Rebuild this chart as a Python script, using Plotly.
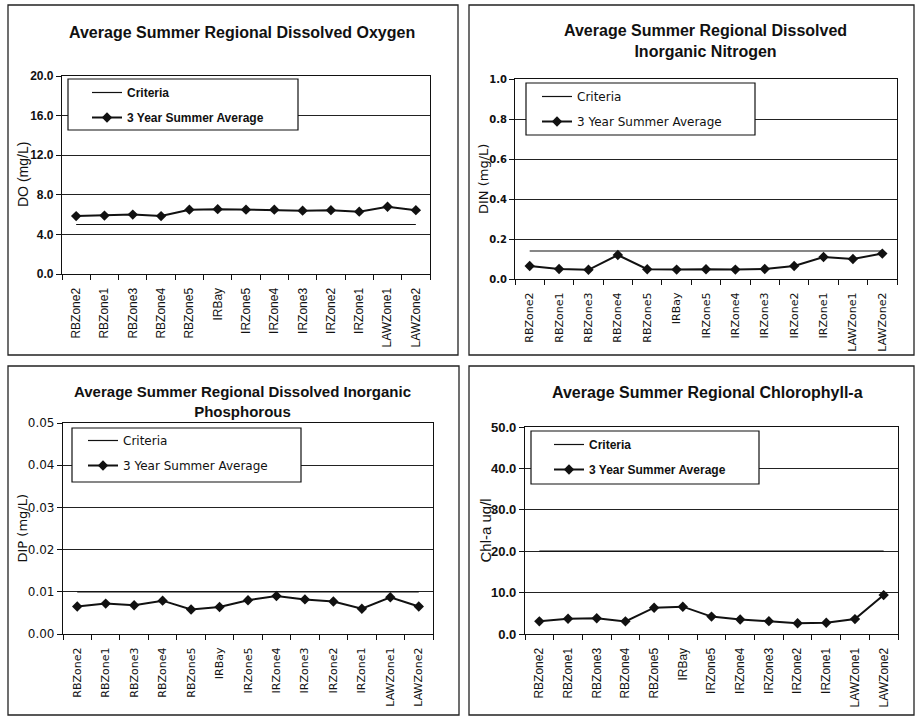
import plotly.graph_objects as go

# ---------------------------------------------------------------------------
# Data
# ---------------------------------------------------------------------------
regions = ["RBZone2", "RBZone1", "RBZone3", "RBZone4", "RBZone5", "IRBay",
           "IRZone5", "IRZone4", "IRZone3", "IRZone2", "IRZone1",
           "LAWZone1", "LAWZone2"]

do_avg = [5.85, 5.9, 6.0, 5.85, 6.5, 6.55, 6.5, 6.5, 6.4, 6.45, 6.3, 6.8, 6.45]
do_criteria = 5.0

din_avg = [0.065, 0.05, 0.046, 0.12, 0.049, 0.047, 0.049, 0.047, 0.05,
           0.065, 0.11, 0.10, 0.127]
din_criteria = 0.14

dip_avg = [0.0065, 0.0072, 0.0068, 0.0079, 0.0058, 0.0064, 0.0080,
           0.0090, 0.0082, 0.0077, 0.0060, 0.0087, 0.0065]
dip_criteria = 0.01

chl_avg = [3.05, 3.7, 3.8, 3.05, 6.35, 6.6, 4.2, 3.5, 3.1, 2.6, 2.7, 3.6, 9.4]
chl_criteria = 20.0

titles = ["Average Summer Regional Dissolved Oxygen",
          "Average Summer Regional Dissolved<br>Inorganic Nitrogen",
          "Average Summer Regional Dissolved Inorganic<br>Phosphorous",
          "Average Summer Regional Chlorophyll-a"]
y_titles = ["DO (mg/L)", "DIN (mg/L)", "DIP (mg/L)", "Chl-a ug/l"]
y_ranges = [(0, 20), (0, 1.0), (0, 0.05), (0, 50)]
y_dticks = [4, 0.2, 0.01, 10]
y_formats = [".1f", ".1f", ".2f", ".1f"]
series_names = ["Criteria", "3 Year Summer Average"]

# ---------------------------------------------------------------------------
# Page geometry (pixels)
# ---------------------------------------------------------------------------
W, H = 916, 717


def fx(px):
    return px / W


def fy(py):
    return 1 - py / H


ARIAL = "Liberation Sans, Arial, sans-serif"
TAHOMA = "DejaVu Sans, Tahoma, sans-serif"

panels = [
    dict(avg=do_avg, crit=do_criteria, box=(8, 5, 458, 355),
         plot=(62, 76, 430, 274), leg_box=(68, 79, 298, 130),
         leg_text=(127, 78), title_xy=(242, 32), ytitle_x=23,
         title_size=16, tick_font=dict(family=ARIAL, size=12, weight="bold"),
         x_font=dict(family=ARIAL, size=12), ytitle_font=dict(family=ARIAL, size=14),
         leg_font=dict(family=ARIAL, size=12, weight="bold")),
    dict(avg=din_avg, crit=din_criteria, box=(469, 5, 914, 355),
         plot=(515, 79, 897, 279), leg_box=(526, 83, 755, 135),
         leg_text=(577, 82), title_xy=(705, 41), ytitle_x=483,
         title_size=16, tick_font=dict(family=TAHOMA, size=10, weight="bold"),
         x_font=dict(family=TAHOMA, size=11), ytitle_font=dict(family=TAHOMA, size=13),
         leg_font=dict(family=TAHOMA, size=12)),
    dict(avg=dip_avg, crit=dip_criteria, box=(8, 366, 459, 715),
         plot=(63, 423, 433, 634), leg_box=(72, 428, 301, 482),
         leg_text=(123, 426), title_xy=(242, 401), ytitle_x=22,
         title_size=15, tick_font=dict(family=TAHOMA, size=12),
         x_font=dict(family=TAHOMA, size=11), ytitle_font=dict(family=TAHOMA, size=13),
         leg_font=dict(family=TAHOMA, size=12)),
    dict(avg=chl_avg, crit=chl_criteria, box=(469, 366, 914, 715),
         plot=(525, 427, 898, 634), leg_box=(531, 431, 759, 484),
         leg_text=(589, 430), title_xy=(707, 392), ytitle_x=485,
         title_size=16, tick_font=dict(family=ARIAL, size=13, weight="bold"),
         x_font=dict(family=ARIAL, size=12), ytitle_font=dict(family=ARIAL, size=15),
         leg_font=dict(family=ARIAL, size=12, weight="bold")),
]

fig = go.Figure()
layout = dict(
    width=W, height=H,
    margin=dict(l=0, r=0, t=0, b=0, pad=0, autoexpand=False),
    paper_bgcolor="white", plot_bgcolor="white",
    showlegend=True,
    shapes=[], annotations=[],
)

for i, p in enumerate(panels):
    n = i + 1
    sfx = "" if n == 1 else str(n)
    xa, ya = f"x{sfx}", f"y{sfx}"
    leg = "legend" if n == 1 else f"legend{n}"

    # criteria reference line and the 3-year summer average
    fig.add_trace(go.Scatter(
        x=regions, y=[p["crit"]] * len(regions), name=series_names[0],
        mode="lines", line=dict(color="#111", width=1.2),
        xaxis=xa, yaxis=ya, legend=leg, legendgroup=f"c{n}",
        hoverinfo="skip"))
    fig.add_trace(go.Scatter(
        x=regions, y=p["avg"], name=series_names[1],
        mode="lines+markers", line=dict(color="#111", width=2),
        marker=dict(symbol="diamond", size=8, color="#111"),
        xaxis=xa, yaxis=ya, legend=leg, legendgroup=f"a{n}"))

    x0, y0, x1, y1 = p["plot"]
    layout[f"xaxis{sfx}"] = dict(
        domain=[fx(x0), fx(x1)], anchor=ya, type="category",
        categoryorder="array", categoryarray=regions,
        range=[-0.5, len(regions) - 0.5], automargin=False,
        showline=True, linecolor="#111", linewidth=1.2, mirror=True,
        ticks="outside", tickson="boundaries", ticklen=5, tickcolor="#111",
        tickangle=-90, tickfont=dict(color="#111", **p["x_font"]),
        ticklabelstandoff=8, showgrid=False, zeroline=False, fixedrange=True)
    layout[f"yaxis{sfx}"] = dict(
        domain=[fy(y1), fy(y0)], anchor=xa, automargin=False,
        range=list(y_ranges[i]), dtick=y_dticks[i], tick0=0,
        tickformat=y_formats[i],
        showline=True, linecolor="#111", linewidth=1.2, mirror=True,
        ticks="outside", ticklen=5, tickcolor="#111",
        tickfont=dict(color="#111", **p["tick_font"]),
        showgrid=True, gridcolor="#222", gridwidth=1,
        zeroline=False, fixedrange=True)

    # legend frame
    lx0, ly0, lx1, ly1 = p["leg_box"]
    layout["shapes"].append(dict(
        type="rect", xref="paper", yref="paper", layer="above",
        x0=fx(lx0), x1=fx(lx1), y0=fy(ly1), y1=fy(ly0),
        fillcolor="white", line=dict(color="#111", width=1.2)))
    tx, ty = p["leg_text"]
    layout[leg] = dict(
        x=fx(tx - 40), y=fy(ty), xanchor="left", yanchor="top",
        bgcolor="rgba(0,0,0,0)", borderwidth=0,
        font=dict(color="#111", **p["leg_font"]),
        tracegroupgap=6, itemclick=False, itemdoubleclick=False)

    # outer panel frame
    bx0, by0, bx1, by1 = p["box"]
    layout["shapes"].append(dict(
        type="rect", xref="paper", yref="paper", layer="below",
        x0=fx(bx0), x1=fx(bx1), y0=fy(by1), y1=fy(by0),
        line=dict(color="#222", width=1.3)))

    # chart title
    cx, cy = p["title_xy"]
    layout["annotations"].append(dict(
        text=titles[i], xref="paper", yref="paper",
        x=fx(cx), y=fy(cy), xanchor="center", yanchor="middle",
        showarrow=False,
        font=dict(family=ARIAL, size=p["title_size"], weight="bold", color="#111")))

    # y-axis title
    layout["annotations"].append(dict(
        text=y_titles[i], xref="paper", yref="paper", textangle=-90,
        x=fx(p["ytitle_x"]), y=fy((y0 + y1) / 2),
        xanchor="center", yanchor="middle", showarrow=False,
        font=dict(color="#111", **p["ytitle_font"])))

fig.update_layout(**layout)
fig.write_html("out.html")
